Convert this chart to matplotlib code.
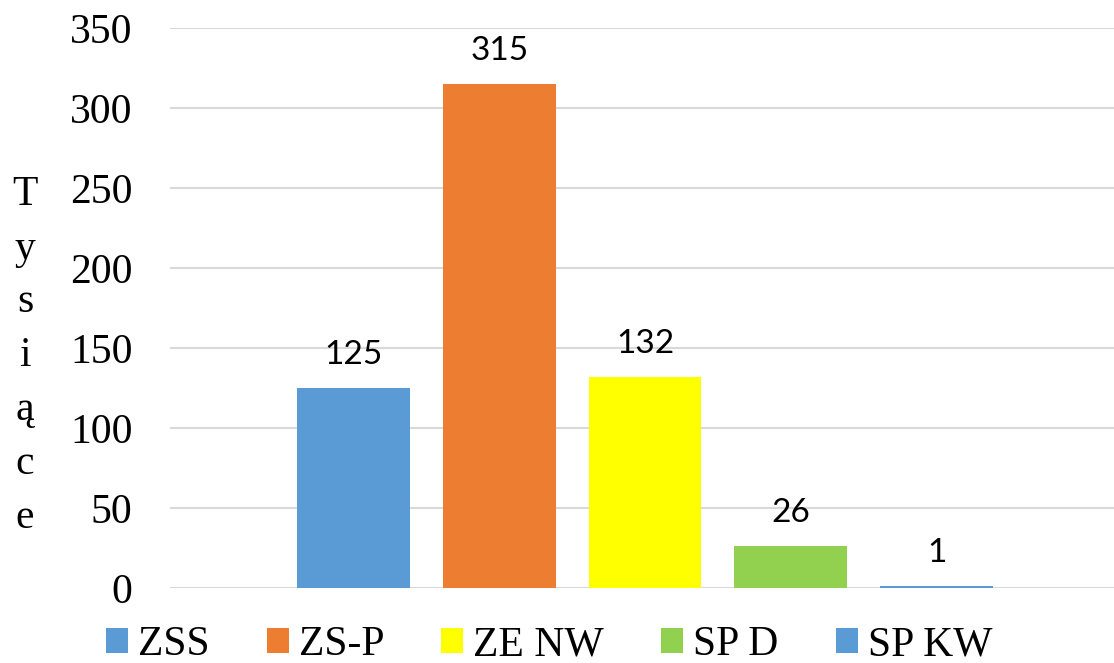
import matplotlib.pyplot as plt
from matplotlib.patches import Patch

# --- dane ---
series = ["ZSS", "ZS-P", "ZE NW", "SP D", "SP KW"]
values = [125, 315, 132, 26, 1]
colors = ["#5B9BD5", "#ED7D31", "#FFFF00", "#92D050", "#5B9BD5"]
yticks = [0, 50, 100, 150, 200, 250, 300, 350]
ylabel = "Tysiące"

serif = ["Liberation Serif", "DejaVu Serif"]
sans = ["Lato", "Open Sans", "DejaVu Sans"]

fig = plt.figure(figsize=(11.14, 6.63), dpi=100)
ax = fig.add_axes([170 / 1114, 75 / 663, 944 / 1114, 560 / 663])

x = list(range(len(series)))
bars = ax.bar(x, values, width=0.774, color=colors, zorder=2)

for xi, v in zip(x, values):
    ax.annotate(str(v), (xi, v), xytext=(0, 13), textcoords="offset points",
                ha="center", va="bottom", fontsize=24, family=sans, color="#000000")

ax.set_xlim(-1.257, 5.216)
ax.set_ylim(0, 350)
ax.set_yticks(yticks)
ax.set_yticklabels([str(t) for t in yticks], family=serif, fontsize=30)
ax.set_xticks([])
ax.tick_params(axis="y", length=0, pad=27)
ax.grid(axis="y", color="#D9D9D9", linewidth=1.5, zorder=0)
for s in ax.spines.values():
    s.set_visible(False)

# pionowy opis osi, litera pod literą
fig.text(25 / 1114, 1 - 356 / 663, "\n".join(ylabel), ha="center", va="center",
         family=serif, fontsize=30, linespacing=1.52)

handles = [Patch(facecolor=c, edgecolor="none") for c in colors]
fig.legend(handles, series, loc="center", bbox_to_anchor=(549 / 1114, 1 - 645 / 663),
           ncol=5, frameon=False, prop={"family": serif, "size": 30},
           handlelength=0.53, handleheight=0.53, handletextpad=0.24,
           columnspacing=1.37, borderaxespad=0, borderpad=0)

fig.savefig("out.png", dpi=100)
